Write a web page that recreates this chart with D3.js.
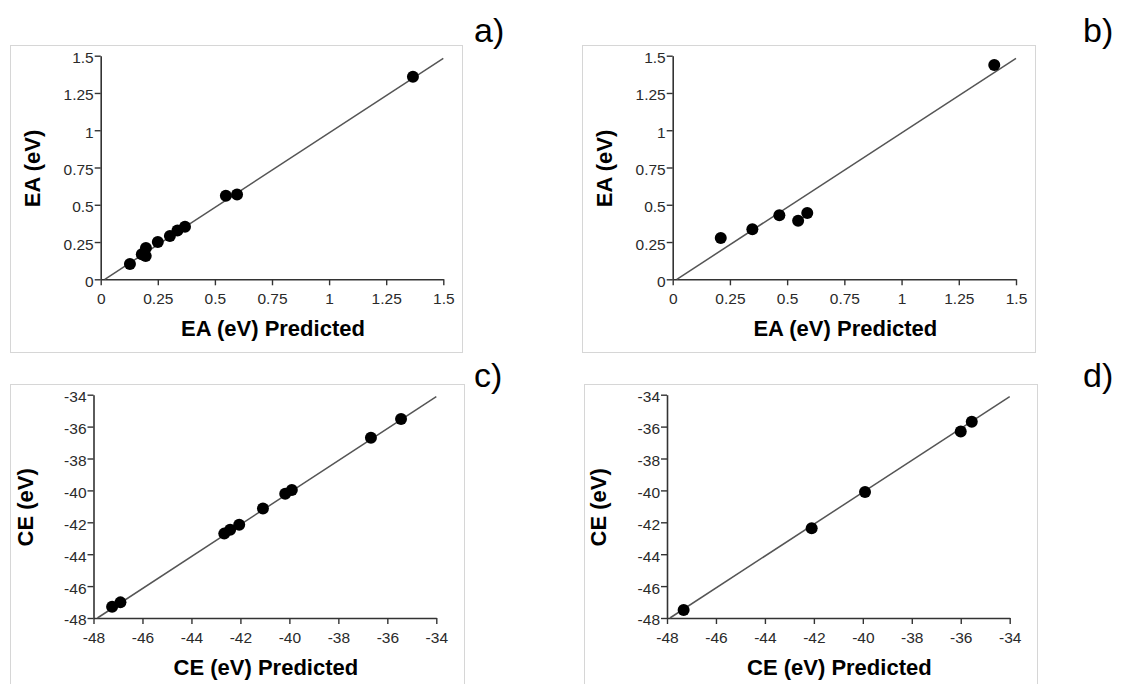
<!DOCTYPE html>
<html>
<head>
<meta charset="utf-8">
<script src="https://cdnjs.cloudflare.com/ajax/libs/d3/7.8.5/d3.min.js"></script>
<style>
  body { margin: 0; background: #fff; }
  text { font-family: Arial, "Liberation Sans", sans-serif; }
</style>
</head>
<body>
<script>
var width = 1125,
    height = 684;

// data
var eaTicks = [0, 0.25, 0.5, 0.75, 1, 1.25, 1.5],
    ceTicks = [-48, -46, -44, -42, -40, -38, -36, -34];

var aPredicted = [0.128, 0.18, 0.197, 0.198, 0.25, 0.303, 0.336, 0.369, 0.548, 0.597, 1.367],
    aActual    = [0.102, 0.168, 0.157, 0.21, 0.251, 0.291, 0.328, 0.352, 0.561, 0.569, 1.359],
    aFitX = [0.018, 1.5],
    aFitY = [0, 1.482];

var bPredicted = [0.21, 0.348, 0.466, 0.548, 0.588, 1.405],
    bActual    = [0.277, 0.335, 0.429, 0.393, 0.445, 1.437],
    bFitX = [0.018, 1.5],
    bFitY = [0, 1.482];

var cPredicted = [-47.24, -46.9, -42.66, -42.42, -42.05, -41.08, -40.17, -39.9, -36.67, -35.44],
    cActual    = [-47.29, -47.02, -42.71, -42.46, -42.15, -41.13, -40.21, -39.98, -36.7, -35.53],
    cFitX = [-47.84, -34],
    cFitY = [-48, -34.12];

var dPredicted = [-47.32, -42.09, -39.91, -36.0, -35.55],
    dActual    = [-47.5, -42.38, -40.1, -36.3, -35.69],
    dFitX = [-47.88, -34],
    dFitY = [-48, -34.12];

var figure = d3.select("body")
    .append("svg")
        .attr("width", width)
        .attr("height", height);

// plain hyphen for negatives, like the original
var plain = function(d) { return String(d); };

function drawPanel(p) {
    var x = d3.scaleLinear().domain(p.domain).range([p.left, p.right]),
        y = d3.scaleLinear().domain(p.domain).range([p.bottom, p.top]);

    // light frame round the panel
    figure.append("rect")
        .attr("x", p.box[0] + 0.5)
        .attr("y", p.box[1] + 0.5)
        .attr("width", p.box[2])
        .attr("height", p.box[3])
        .attr("fill", "none")
        .attr("stroke", "#d6d6d6")
        .attr("stroke-width", 1);

    // panel letter
    figure.append("text")
        .attr("x", p.letterX)
        .attr("y", p.letterY)
        .attr("font-size", "34px")
        .attr("fill", "#000")
        .text(p.letter);

    // axes
    var xAxis = figure.append("g")
        .attr("transform", "translate(0," + p.bottom + ")")
        .call(d3.axisBottom(x)
            .tickValues(p.ticks)
            .tickFormat(plain)
            .tickSizeInner(6)
            .tickSizeOuter(0)
            .tickPadding(8));

    var yAxis = figure.append("g")
        .attr("transform", "translate(" + p.left + ",0)")
        .call(d3.axisLeft(y)
            .tickValues(p.ticks)
            .tickFormat(plain)
            .tickSizeInner(6)
            .tickSizeOuter(0)
            .tickPadding(1));

    [xAxis, yAxis].forEach(function(g) {
        g.select(".domain").attr("stroke", "#333").attr("stroke-width", 1.6);
        g.selectAll(".tick line").attr("stroke", "#333").attr("stroke-width", 1.4);
        g.selectAll(".tick text")
            .attr("font-size", "15.5px")
            .attr("font-family", "Arial, 'Liberation Sans', sans-serif")
            .attr("fill", "#2a2a2a");
    });
    yAxis.selectAll(".tick text").attr("dy", "0.45em");

    // fitted line
    figure.append("line")
        .attr("x1", x(p.fitX[0]))
        .attr("y1", y(p.fitY[0]))
        .attr("x2", x(p.fitX[1]))
        .attr("y2", y(p.fitY[1]))
        .attr("stroke", "#555")
        .attr("stroke-width", 1.5);

    // the points
    figure.append("g")
        .selectAll("circle")
        .data(p.predicted)
        .enter()
        .append("circle")
        .attr("r", 6)
        .attr("cx", function(d) { return x(d); })
        .attr("cy", function(d, i) { return y(p.actual[i]); })
        .attr("fill", "#000");

    // axis titles
    figure.append("text")
        .attr("x", (p.left + p.right) / 2 + 1)
        .attr("y", p.bottom + 57)
        .attr("text-anchor", "middle")
        .attr("font-size", "22px")
        .attr("font-weight", "bold")
        .text(p.xTitle);

    figure.append("text")
        .attr("transform", "translate(" + (p.left - 61) + "," + ((p.top + p.bottom) / 2 + 1) + ") rotate(-90)")
        .attr("text-anchor", "middle")
        .attr("font-size", "22px")
        .attr("font-weight", "bold")
        .text(p.yTitle);
}

drawPanel({
    letter: "a)", letterX: 474, letterY: 42,
    box: [10, 45, 452, 307],
    left: 100.7, right: 443.3, top: 55.7, bottom: 279.3,
    domain: [0, 1.5], ticks: eaTicks,
    predicted: aPredicted, actual: aActual, fitX: aFitX, fitY: aFitY,
    xTitle: "EA (eV) Predicted", yTitle: "EA (eV)"
});

drawPanel({
    letter: "b)", letterX: 1083, letterY: 42,
    box: [582, 45, 453, 307],
    left: 672.7, right: 1016, top: 55.7, bottom: 279.3,
    domain: [0, 1.5], ticks: eaTicks,
    predicted: bPredicted, actual: bActual, fitX: bFitX, fitY: bFitY,
    xTitle: "EA (eV) Predicted", yTitle: "EA (eV)"
});

drawPanel({
    letter: "c)", letterX: 474, letterY: 387,
    box: [10, 384, 454, 320],
    left: 93.5, right: 436.3, top: 394.7, bottom: 618,
    domain: [-48, -34], ticks: ceTicks,
    predicted: cPredicted, actual: cActual, fitX: cFitX, fitY: cFitY,
    xTitle: "CE (eV) Predicted", yTitle: "CE (eV)"
});

drawPanel({
    letter: "d)", letterX: 1083, letterY: 387,
    box: [584, 384, 453, 320],
    left: 667, right: 1009.7, top: 394.7, bottom: 618,
    domain: [-48, -34], ticks: ceTicks,
    predicted: dPredicted, actual: dActual, fitX: dFitX, fitY: dFitY,
    xTitle: "CE (eV) Predicted", yTitle: "CE (eV)"
});
</script>
</body>
</html>
